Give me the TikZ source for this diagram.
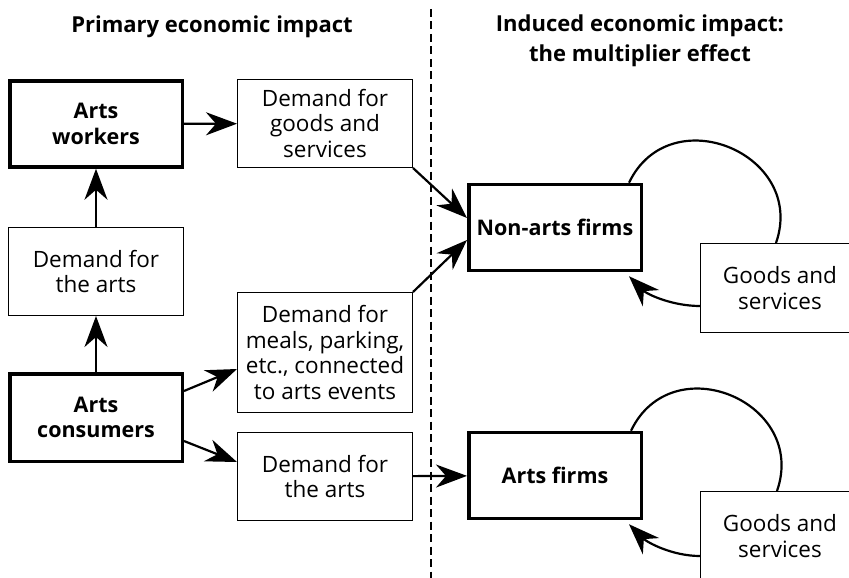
\documentclass[tikz,border=0pt]{standalone}
\usepackage{fontspec}
\setmainfont{Open Sans}
\usetikzlibrary{arrows.meta}
\begin{document}
\begin{tikzpicture}[x=1pt,y=-1pt,
  every node/.style={font=\fontsize{22.5}{25.5}\selectfont, align=center, inner sep=0pt},
  thinbox/.style={draw, line width=1.3pt, minimum width=174.7pt, minimum height=87.7pt},
  thickbox/.style={draw, line width=3.5pt, minimum width=172.5pt, minimum height=86pt, font=\fontsize{21.5}{25.5}\selectfont\bfseries},
  arr/.style={line width=2.2pt, -{Stealth[length=31pt,width=23pt,inset=10pt]}},
  cyc/.style={line width=2.2pt},
  hdr/.style={font=\fontsize{22}{25.5}\selectfont\bfseries, anchor=base},
  divider/.style={line width=1.3pt, dash pattern=on 8pt off 4.5pt},
]
\useasboundingbox (0,0) rectangle (849,578);
\fill[white] (0,0) rectangle (849,578);
\clip (0,0) rectangle (849,578);

% headers
\node[hdr] (h1) at (212,33) {Primary economic impact};
\node[hdr] (h2a) at (640,32) {Induced economic impact:};
\node[hdr] (h2b) at (640,62) {the multiplier effect};

% divider
\coordinate (dtop) at (431,9);
\coordinate (dbot) at (431,582);
\draw[divider] (dtop) -- (dbot);

% boxes
\node[thickbox] (aw) at (96,124) {Arts\\workers};
\node[thinbox] (dg) at (325,123.5) {Demand for\\goods and\\services};
\node[thinbox] (dal) at (96,271.5) {Demand for\\the arts};
\node[thickbox, minimum height=87.5pt] (ac) at (96,417.5) {Arts\\consumers};
\node[thinbox, minimum height=119.7pt] (dm) at (325,352.5) {Demand for\\meals, parking,\\etc., connected\\to arts events};
\node[thinbox] (dam) at (325,476.5) {Demand for\\the arts};
\node[thickbox] (naf) at (555,227.5) {Non-arts firms};
\node[thickbox] (af) at (555,475.5) {Arts firms};
\node[thinbox, minimum width=158.7pt, minimum height=88.7pt] (gu) at (780,288) {Goods and\\services};
\node[thinbox, minimum width=158.7pt, minimum height=88.7pt] (gl) at (780,536) {Goods and\\services};

% arrows
\draw[arr] (aw) -- (dg);
\draw[arr] (dal) -- (aw);
\draw[arr] (ac) -- (dal);
\draw[arr] ([yshift=26.5pt]ac.east) -- ([yshift=-16.5pt]dm.west);
\draw[arr] ([yshift=-23.5pt]ac.east) -- ([yshift=14.5pt]dam.west);
\draw[arr] (dg.south east) -- ([yshift=9.5pt]naf.west);
\draw[arr] (dm.north east) -- ([yshift=-12.5pt]naf.west);
\draw[arr] (dam) -- (af);

% multiplier loops
\draw[cyc] ([xshift=74pt]naf.north) .. controls +(41,-85.5) and +(31,-89) .. ([xshift=-4pt]gu.north);
\draw[arr] ([yshift=-18pt]gu.west) .. controls +(-28,0) and +(18,18) .. ([xshift=74pt,yshift=-4pt]naf.south);
\draw[cyc] ([xshift=76pt]af.north) .. controls +(41,-85.5) and +(31,-89) .. ([xshift=-3pt]gl.north);
\draw[arr] ([yshift=-20pt]gl.west) .. controls +(-28,0) and +(18,18) .. ([xshift=74pt,yshift=-4pt]af.south);
\end{tikzpicture}
\end{document}
